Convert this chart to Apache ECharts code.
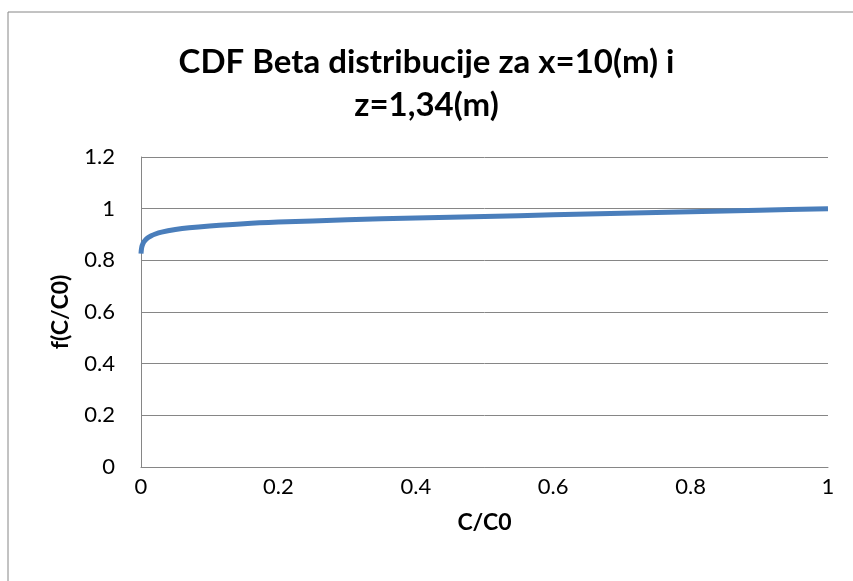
<!DOCTYPE html>
<html>
<head>
<meta charset="utf-8">
<script src="https://cdn.jsdelivr.net/npm/echarts@6/dist/echarts.min.js"></script>
<style>
  html, body { margin: 0; padding: 0; background: #fff; }
  #chart { width: 853px; height: 581px; }
</style>
</head>
<body>
<div id="chart"></div>
<script>
// podaci očitani sa slike
const titleText = "CDF Beta distribucije za x=10(m) i\nz=1,34(m)";
const xName = "C/C0";
const yName = "f(C/C0)";
const cRatio = [0, 0.001, 0.003, 0.006, 0.01, 0.015, 0.02, 0.03, 0.05, 0.07, 0.1, 0.15, 0.2, 0.3, 0.4, 0.5, 0.6, 0.7, 0.8, 0.9, 1];
const cdfValues = [0.826, 0.85, 0.866, 0.877, 0.887, 0.895, 0.901, 0.909, 0.919, 0.926, 0.933, 0.942, 0.948, 0.957, 0.964, 0.970, 0.976, 0.982, 0.988, 0.994, 1.0];

const font = "Lato, 'Open Sans', sans-serif";
const myChart = echarts.init(document.getElementById("chart"));

let option = {
  backgroundColor: "#fff",
  animation: false,
  title: {
    text: titleText,
    left: "center",
    top: 36,
    textStyle: {
      fontFamily: font,
      fontWeight: "bold",
      fontSize: 33,
      lineHeight: 43,
      color: "#000",
    },
  },
  // okvir grafikona
  graphic: [
    {
      type: "rect",
      shape: { x: 8, y: 12, width: 900, height: 700 },
      style: { fill: "none", stroke: "#868686", lineWidth: 1 },
    },
  ],
  grid: {
    left: 141,
    right: 25,
    top: 157,
    bottom: 114,
    containLabel: false,
  },
  xAxis: {
    type: "value",
    min: 0,
    max: 1,
    interval: 0.2,
    name: xName,
    nameLocation: "middle",
    nameGap: 44,
    nameTextStyle: { fontFamily: font, fontWeight: "bold", fontSize: 23, color: "#000" },
    axisLine: { show: true, lineStyle: { color: "#868686", width: 1 } },
    axisTick: { show: false },
    splitLine: { show: false },
    axisLabel: { fontFamily: font, fontSize: 22, color: "#000", margin: 9 },
  },
  yAxis: {
    type: "value",
    min: 0,
    max: 1.2,
    interval: 0.2,
    name: yName,
    nameLocation: "middle",
    nameGap: 69,
    nameRotate: 90,
    nameTextStyle: { fontFamily: font, fontWeight: "bold", fontSize: 23, color: "#000" },
    axisLine: { show: true, lineStyle: { color: "#868686", width: 1 } },
    axisTick: { show: false },
    splitLine: { show: true, lineStyle: { color: "#868686", width: 1 } },
    axisLabel: { fontFamily: font, fontSize: 22, color: "#000", margin: 26 },
  },
  series: [
    {
      type: "line",
      smooth: 0.3,
      showSymbol: false,
      lineStyle: { color: "#4A7EBB", width: 5 },
      data: cRatio.map((c, i) => [c, cdfValues[i]]),
    },
  ],
};

option && myChart.setOption(option);
</script>
</body>
</html>
